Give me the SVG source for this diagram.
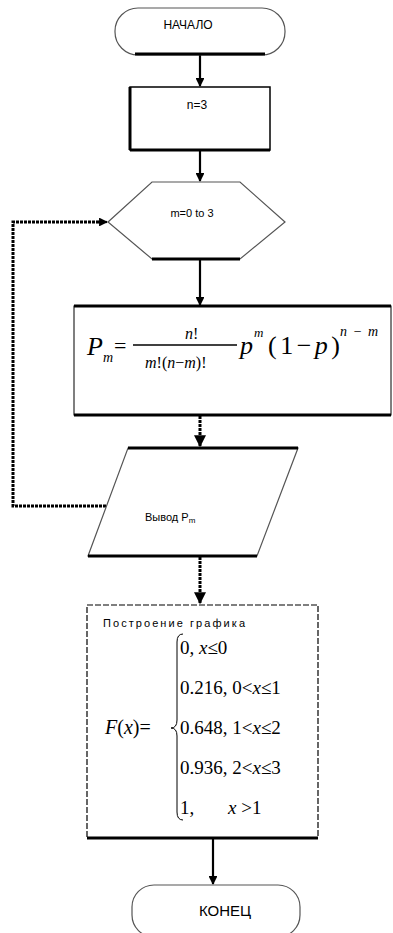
<svg xmlns="http://www.w3.org/2000/svg" width="393" height="933" viewBox="0 0 393 933">
<style>
.sans{font-family:"Liberation Sans",Arial,sans-serif;fill:#000}
.serif{font-family:"Liberation Serif","Times New Roman",serif;fill:#000}
.it{font-style:italic}
.shape{fill:#fff;stroke:#000;stroke-width:1.5}
.thin{fill:#fff;stroke:#555;stroke-width:1.2}
.edge{stroke:#000;stroke-width:3;fill:none}
.conn{stroke:#000;stroke-width:2.2;fill:none}
.dot{stroke:#000;stroke-width:3;fill:none;stroke-dasharray:3 1}
</style>
<defs>
<marker id="ah" viewBox="0 0 10 10" refX="9" refY="5" markerWidth="4" markerHeight="4" orient="auto" markerUnits="strokeWidth">
<path d="M0,0 L10,5 L0,10 z" fill="#000"/>
</marker>
</defs>
<rect width="393" height="933" fill="#fff"/>

<g id="connectors">
<line class="conn" x1="200" y1="55" x2="200" y2="86" marker-end="url(#ah)"/>
<line class="conn" x1="200" y1="150" x2="200" y2="181" marker-end="url(#ah)"/>
<line class="conn" x1="200" y1="259" x2="200" y2="305" marker-end="url(#ah)"/>
<line x1="200" y1="400" x2="200" y2="415" stroke="#888" stroke-width="1.5"/>
<line class="dot" x1="200" y1="416" x2="200" y2="446" marker-end="url(#ah)"/>
<line class="dot" x1="200" y1="557" x2="200" y2="603" marker-end="url(#ah)"/>
<line class="conn" x1="213" y1="839" x2="213" y2="884" marker-end="url(#ah)"/>
<polyline class="dot" points="106,506 13,506 13,222 100,222" stroke-width="3.5"/>
<line class="conn" x1="96" y1="222" x2="107" y2="222" marker-end="url(#ah)"/>
</g>

<g id="start">
<rect class="thin" x="115" y="8" width="170" height="47" rx="23"/>
<line class="edge" x1="135" y1="54" x2="265" y2="54" stroke-width="2"/>
<text class="sans" x="188" y="29" font-size="12" text-anchor="middle">НАЧАЛО</text>
</g>

<g id="init">
<rect class="shape" x="130" y="87" width="140" height="63"/>
<line class="edge" x1="130" y1="87" x2="130" y2="150" stroke-width="2.5"/>
<line class="edge" x1="130" y1="150" x2="270" y2="150" stroke-width="2.5"/>
<text class="sans" x="197" y="109" font-size="12" text-anchor="middle">n=3</text>
</g>

<g id="loop">
<polygon class="thin" points="108,222 152,182 240,182 285,222 240,259 152,259"/>
<line class="edge" x1="152" y1="259" x2="240" y2="259"/>
<text class="sans" x="192" y="217" font-size="11" text-anchor="middle">m=0 to 3</text>
</g>

<g id="formula">
<rect x="74" y="306" width="317" height="109" fill="#fff" stroke="#000" stroke-width="1"/>
<line class="edge" x1="74" y1="306" x2="391" y2="306"/>
<line class="edge" x1="74" y1="415" x2="391" y2="415"/>
<text class="serif it" x="87" y="355" font-size="26">P</text>
<text class="serif it" x="103" y="362" font-size="14">m</text>
<text class="serif" x="114" y="353" font-size="22">=</text>
<line x1="133" y1="345" x2="237" y2="345" stroke="#000" stroke-width="1.3"/>
<text class="serif" x="185" y="339" font-size="16"><tspan class="it">n</tspan>!</text>
<text class="serif" x="145" y="368" font-size="16"><tspan class="it">m</tspan>!(<tspan class="it">n</tspan>−<tspan class="it">m</tspan>)!</text>
<text class="serif it" x="240" y="354" font-size="26">p</text>
<text class="serif it" x="254" y="337" font-size="13">m</text>
<text class="serif" x="268" y="354" font-size="26" textLength="72">(1−<tspan class="it">p</tspan>)</text>
<text class="serif it" x="340" y="336" font-size="14" textLength="38">n−m</text>
</g>

<g id="output">
<polygon class="thin" points="128,448 298,448 257,556 88,556"/>
<line class="edge" x1="128" y1="448" x2="298" y2="448"/>
<line class="edge" x1="88" y1="556" x2="257" y2="556" stroke-width="2"/>
<text class="sans" x="145" y="521" font-size="11">Вывод P<tspan font-size="8" dy="2">m</tspan></text>
</g>

<g id="graph">
<rect x="87" y="605" width="231" height="233" fill="#fff" stroke="#000" stroke-width="1.2" stroke-dasharray="6 2"/>
<line class="edge" x1="87" y1="838" x2="318" y2="838"/>
<text class="sans" x="103" y="627" font-size="11" textLength="142">Построение графика</text>
<text class="serif" x="105" y="734" font-size="20"><tspan class="it">F</tspan>(<tspan class="it">x</tspan>)=</text>
<path d="M183,634 Q177,634 177,642 L177,720 Q177,728 171,728 Q177,728 177,736 L177,812 Q177,820 183,820" fill="none" stroke="#000" stroke-width="1"/>
<text class="serif" x="180" y="654" font-size="19">0, <tspan class="it">x</tspan>≤0</text>
<text class="serif" x="180" y="694" font-size="19">0.216, 0&lt;<tspan class="it">x</tspan>≤1</text>
<text class="serif" x="180" y="734" font-size="19">0.648, 1&lt;<tspan class="it">x</tspan>≤2</text>
<text class="serif" x="180" y="774" font-size="19">0.936, 2&lt;<tspan class="it">x</tspan>≤3</text>
<text class="serif" x="180" y="814" font-size="19">1,<tspan x="228" class="it">x</tspan> &gt;1</text>
</g>

<g id="end">
<rect class="thin" x="132" y="885" width="168" height="52" rx="22"/>
<text class="sans" x="225" y="916" font-size="15" text-anchor="middle">КОНЕЦ</text>
</g>
</svg>
